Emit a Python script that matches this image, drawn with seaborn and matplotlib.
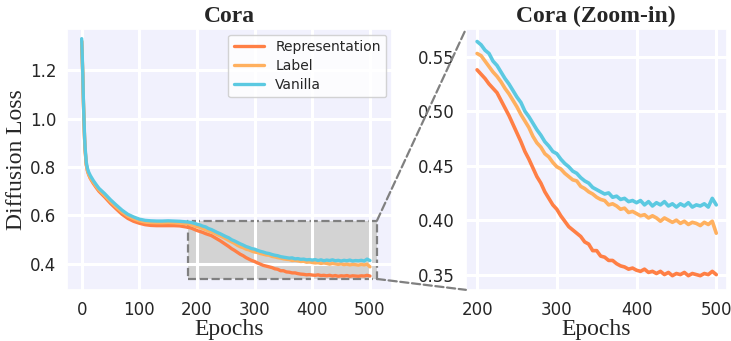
import numpy as np
import pandas as pd
import matplotlib
matplotlib.use('Agg')
import matplotlib.pyplot as plt
import seaborn as sns
from matplotlib.patches import Rectangle, ConnectionPatch

epochs = [0, 1, 2, 3, 4, 5, 6, 8, 10, 12, 15, 20, 25, 30, 40, 50, 60, 70, 80, 90,
          100, 110, 120, 130, 140, 150, 160, 170, 180] + list(range(185, 505, 5))

vanilla = [1.33, 1.26, 1.18, 1.08, 1.00, 0.93, 0.88, 0.82, 0.795, 0.78, 0.765, 0.745,
           0.728, 0.712, 0.69, 0.665, 0.643, 0.622, 0.605, 0.594, 0.585, 0.580, 0.578,
           0.577, 0.577, 0.578, 0.577, 0.576, 0.574,
           0.573, 0.571, 0.568,
           0.564, 0.561, 0.556, 0.553, 0.546, 0.542, 0.536, 0.530, 0.525, 0.519,
           0.513, 0.508, 0.500, 0.495, 0.489, 0.483, 0.478, 0.472, 0.468, 0.463,
           0.461, 0.456, 0.452, 0.449, 0.445, 0.443, 0.439, 0.436, 0.434, 0.430,
           0.428, 0.426, 0.424, 0.425, 0.421, 0.422, 0.419, 0.420, 0.417, 0.418,
           0.416, 0.418, 0.414, 0.417, 0.413, 0.416, 0.414, 0.417, 0.413, 0.415,
           0.412, 0.415, 0.413, 0.416, 0.412, 0.414, 0.413, 0.415, 0.412, 0.420,
           0.414]

label = [1.32, 1.25, 1.17, 1.07, 0.99, 0.92, 0.87, 0.81, 0.785, 0.77, 0.755, 0.737,
         0.72, 0.705, 0.682, 0.657, 0.635, 0.614, 0.598, 0.587, 0.578, 0.573, 0.571,
         0.570, 0.570, 0.571, 0.570, 0.569, 0.566,
         0.565, 0.562, 0.558,
         0.553, 0.551, 0.546, 0.541, 0.536, 0.532, 0.527, 0.521, 0.516, 0.510,
         0.504, 0.497, 0.491, 0.485, 0.477, 0.471, 0.467, 0.461, 0.458, 0.453,
         0.449, 0.447, 0.443, 0.440, 0.437, 0.436, 0.431, 0.429, 0.426, 0.424,
         0.421, 0.419, 0.418, 0.414, 0.415, 0.413, 0.410, 0.411, 0.407, 0.408,
         0.406, 0.404, 0.405, 0.402, 0.404, 0.402, 0.399, 0.402, 0.400, 0.398,
         0.400, 0.397, 0.399, 0.396, 0.398, 0.397, 0.395, 0.398, 0.396, 0.399,
         0.388]

representation = [1.32, 1.25, 1.17, 1.07, 0.99, 0.92, 0.87, 0.81, 0.785, 0.77, 0.753,
                  0.733, 0.716, 0.70, 0.676, 0.65, 0.627, 0.605, 0.588, 0.576, 0.568,
                  0.562, 0.559, 0.558, 0.558, 0.558, 0.558, 0.557, 0.553,
                  0.551, 0.548, 0.543,
                  0.538, 0.534, 0.530, 0.525, 0.521, 0.517, 0.510, 0.503, 0.496, 0.488,
                  0.480, 0.472, 0.463, 0.456, 0.448, 0.440, 0.434, 0.426, 0.420, 0.414,
                  0.410, 0.404, 0.399, 0.394, 0.391, 0.388, 0.385, 0.380, 0.378, 0.372,
                  0.372, 0.367, 0.366, 0.363, 0.363, 0.360, 0.358, 0.357, 0.355, 0.356,
                  0.354, 0.353, 0.355, 0.352, 0.353, 0.351, 0.353, 0.350, 0.352, 0.349,
                  0.351, 0.350, 0.352, 0.349, 0.351, 0.350, 0.349, 0.351, 0.350, 0.353,
                  0.350]

series = {'Representation': representation, 'Label': label, 'Vanilla': vanilla}
colors = {'Representation': '#FF7F45', 'Label': '#FFB05F', 'Vanilla': '#5BC9E1'}

df = pd.concat([pd.DataFrame({'Epochs': epochs, 'loss': v, 'method': k})
                for k, v in series.items()])

sns.set_theme(style='darkgrid', rc={'axes.facecolor': '#F1F1FD',
                                    'grid.color': 'white', 'grid.linewidth': 2.2})
plt.rcParams['font.family'] = ['DejaVu Sans']
serif = ['Liberation Serif', 'DejaVu Serif']

fig, (ax1, ax2) = plt.subplots(1, 2, figsize=(7.31, 3.41), dpi=100,
                               gridspec_kw={'width_ratios': [325, 261]})
fig.subplots_adjust(left=0.092, right=0.994, top=0.915, bottom=0.15, wspace=0.253)

sns.lineplot(data=df, x='Epochs', y='loss', hue='method', palette=colors,
             linewidth=2.4, ax=ax1)
zoom = df[df['Epochs'] >= 200]
sns.lineplot(data=zoom, x='Epochs', y='loss', hue='method', palette=colors,
             linewidth=2.6, ax=ax2, legend=False)

# zoom-in box
x0, x1, y0, y1 = 185, 512, 0.338, 0.578
ax1.add_patch(Rectangle((x0, y0), x1 - x0, y1 - y0, facecolor='#D3D3D3',
                        edgecolor='gray', linestyle='--', linewidth=1.6, zorder=0.5))
ax1.set_xlim(-25, 538)
ax1.set_ylim(0.293, 1.37)
ax1.set_xticks([0, 100, 200, 300, 400, 500])
ax1.set_yticks([0.4, 0.6, 0.8, 1.0, 1.2])

ax2.set_xlim(x0 + 1, x1 + 1)
ax2.set_ylim(0.336, 0.5755)
ax2.set_xticks([200, 300, 400, 500])
ax2.set_yticks([0.35, 0.40, 0.45, 0.50, 0.55])

for ax, t in [(ax1, 'Cora'), (ax2, 'Cora (Zoom-in)')]:
    ax.set_title(t, family=serif, fontweight='bold', fontsize=17, pad=5)
    ax.set_xlabel('Epochs', family=serif, fontsize=17, labelpad=0)
    ax.tick_params(labelsize=12, pad=2)
ax1.set_ylabel('Diffusion Loss', family=serif, fontsize=17, labelpad=2)
ax2.set_ylabel('')

leg = ax1.legend(loc='upper right', fontsize=10, handlelength=2.2,
                 borderaxespad=0.4, labelspacing=0.35)
leg.get_frame().set_facecolor('white')
leg.get_frame().set_alpha(0.85)

for ya, yb in [(y1, 0.5755), (y0, 0.336)]:
    con = ConnectionPatch(xyA=(x1, ya), coordsA=ax1.transData,
                          xyB=(x0 + 1, yb), coordsB=ax2.transData,
                          color='gray', linestyle='--', linewidth=1.6)
    fig.add_artist(con)

fig.savefig('out.png', dpi=100)
